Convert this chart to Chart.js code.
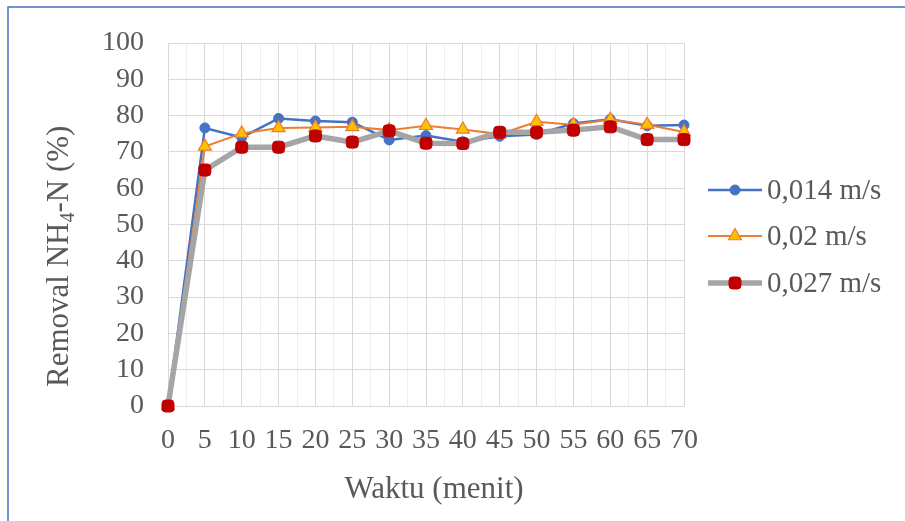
<!DOCTYPE html>
<html>
<head>
<meta charset="utf-8">
<script src="https://cdn.jsdelivr.net/npm/chart.js@4.4.1/dist/chart.umd.min.js"></script>
<style>
  html, body { margin: 0; padding: 0; background: #ffffff; }
  #wrap { position: relative; width: 905px; height: 521px; }
</style>
</head>
<body>
<div id="wrap"><canvas id="c" width="905" height="521"></canvas></div>
<script>
// Sampling times (minutes)
const waktu = [0, 5, 10, 15, 20, 25, 30, 35, 40, 45, 50, 55, 60, 65, 70];

// NH4-N removal (%) per flow velocity
const removal014 = [0, 76.6, 74.0, 79.2, 78.5, 78.2, 73.3, 74.5, 72.8, 74.3, 74.8, 77.8, 79.0, 77.2, 77.4];
const removal02  = [0, 71.5, 75.1, 76.6, 76.7, 76.9, 76.0, 77.2, 76.2, 74.9, 78.3, 77.5, 78.9, 77.5, 75.5];
const removal027 = [0, 65.0, 71.3, 71.3, 74.4, 72.7, 75.8, 72.4, 72.3, 75.4, 75.4, 76.0, 76.9, 73.4, 73.4];

// Axis tick values
const yTicks = [0, 10, 20, 30, 40, 50, 60, 70, 80, 90, 100];

const seriesNames = ['0,014 m/s', '0,02 m/s', '0,027 m/s'];
const yTitle = ['Removal NH', '4', '-N (%)'];
const xTitle = 'Waktu (menit)';

const SERIF = '"Liberation Serif", "Times New Roman", serif';
const TEXT = '#595959';
const TICK_SIZE = 28;
const TITLE_SIZE = 31;
const LEGEND_SIZE = 29;

const pts = arr => waktu.map((t, i) => ({ x: t, y: arr[i] }));

const styles = [
  { color: '#4472C4', width: 2.5, point: 'circle', r: 5, fill: '#4472C4', border: '#4472C4', bw: 1 },
  { color: '#ED7D31', width: 2, point: 'triangle', r: 7.5, fill: '#FFC000', border: '#ED7D31', bw: 1.2 },
  { color: '#A5A5A5', width: 5.5, point: 'rectRounded', r: 7, fill: '#C00000', border: '#C00000', bw: 1 }
];

const datasets = [removal014, removal02, removal027].map((arr, i) => ({
  label: seriesNames[i],
  data: pts(arr),
  borderColor: styles[i].color,
  borderWidth: styles[i].width,
  pointStyle: styles[i].point,
  pointRadius: styles[i].r,
  pointBackgroundColor: styles[i].fill,
  pointBorderColor: styles[i].border,
  pointBorderWidth: styles[i].bw,
  tension: 0,
  clip: false,
  order: 3 - i
}));

function drawMarker(ctx, ds, x, y) {
  ctx.save();
  ctx.fillStyle = ds.pointBackgroundColor;
  ctx.strokeStyle = ds.pointBorderColor;
  ctx.lineWidth = ds.pointBorderWidth;
  Chart.helpers.drawPoint(ctx, {
    pointStyle: ds.pointStyle,
    radius: ds.pointRadius,
    borderWidth: ds.pointBorderWidth,
    rotation: 0
  }, x, y);
  ctx.restore();
}

// Frame, axis titles and legend drawn on the canvas
const decorations = {
  id: 'decorations',
  afterDraw(chart) {
    const ctx = chart.ctx;
    ctx.save();

    // outer frame (left and top edges)
    ctx.strokeStyle = '#4472C4';
    ctx.lineWidth = 1.5;
    ctx.beginPath();
    ctx.moveTo(8, 521);
    ctx.lineTo(8, 7);
    ctx.lineTo(905, 7);
    ctx.stroke();

    ctx.fillStyle = TEXT;

    // y-axis title with subscript
    ctx.save();
    ctx.translate(68, 387);
    ctx.rotate(-Math.PI / 2);
    ctx.textBaseline = 'alphabetic';
    ctx.textAlign = 'left';
    ctx.font = TITLE_SIZE + 'px ' + SERIF;
    let x = 0;
    ctx.fillText(yTitle[0], x, 0);
    x += ctx.measureText(yTitle[0]).width;
    ctx.font = Math.round(TITLE_SIZE * 0.65) + 'px ' + SERIF;
    ctx.fillText(yTitle[1], x, 6);
    x += ctx.measureText(yTitle[1]).width;
    ctx.font = TITLE_SIZE + 'px ' + SERIF;
    ctx.fillText(yTitle[2], x, 0);
    ctx.restore();

    // x-axis title
    ctx.font = TITLE_SIZE + 'px ' + SERIF;
    ctx.textAlign = 'center';
    ctx.textBaseline = 'alphabetic';
    ctx.fillText(xTitle, 434, 498);

    // legend
    const rowsY = [190, 236, 283];
    const x0 = 708, x1 = 762, xm = (x0 + x1) / 2;
    datasets.forEach((ds, i) => {
      const y = rowsY[i];
      ctx.strokeStyle = ds.borderColor;
      ctx.lineWidth = ds.borderWidth;
      ctx.beginPath();
      ctx.moveTo(x0, y);
      ctx.lineTo(x1, y);
      ctx.stroke();
      drawMarker(ctx, ds, xm, y);
      ctx.fillStyle = TEXT;
      ctx.font = LEGEND_SIZE + 'px ' + SERIF;
      ctx.textAlign = 'left';
      ctx.textBaseline = 'middle';
      ctx.fillText(ds.label, 767, y + 1);
    });
    ctx.restore();
  }
};

new Chart(document.getElementById('c'), {
  type: 'line',
  data: { datasets },
  plugins: [decorations],
  options: {
    responsive: false,
    animation: false,
    events: [],
    layout: { padding: { top: 43, right: 221, left: 0, bottom: 0 } },
    plugins: { legend: { display: false }, tooltip: { enabled: false } },
    scales: {
      x: {
        type: 'linear',
        min: 0,
        max: 70,
        afterFit(scale) { scale.height = 115; },
        afterBuildTicks(scale) {
          const t = [];
          for (let v = 0; v <= 70; v += 2.5) t.push({ value: v });
          scale.ticks = t;
        },
        ticks: {
          autoSkip: false,
          maxRotation: 0,
          padding: 18,
          color: TEXT,
          font: { family: SERIF, size: TICK_SIZE },
          callback: v => (v % 5 === 0 ? String(v) : '')
        },
        grid: {
          drawTicks: false,
          color: c => (c.tick && c.tick.value % 5 === 0 ? '#d9d9d9' : '#eeeeee'),
          lineWidth: 1
        },
        border: { color: '#d9d9d9' }
      },
      y: {
        min: 0,
        max: 100,
        afterFit(scale) { scale.width = 168; },
        afterBuildTicks(scale) {
          scale.ticks = yTicks.map(v => ({ value: v }));
        },
        ticks: {
          autoSkip: false,
          padding: 24,
          color: TEXT,
          font: { family: SERIF, size: TICK_SIZE, lineHeight: 1 }
        },
        grid: { drawTicks: false, color: '#d9d9d9' },
        border: { color: '#d9d9d9' }
      }
    }
  }
});
</script>
</body>
</html>
